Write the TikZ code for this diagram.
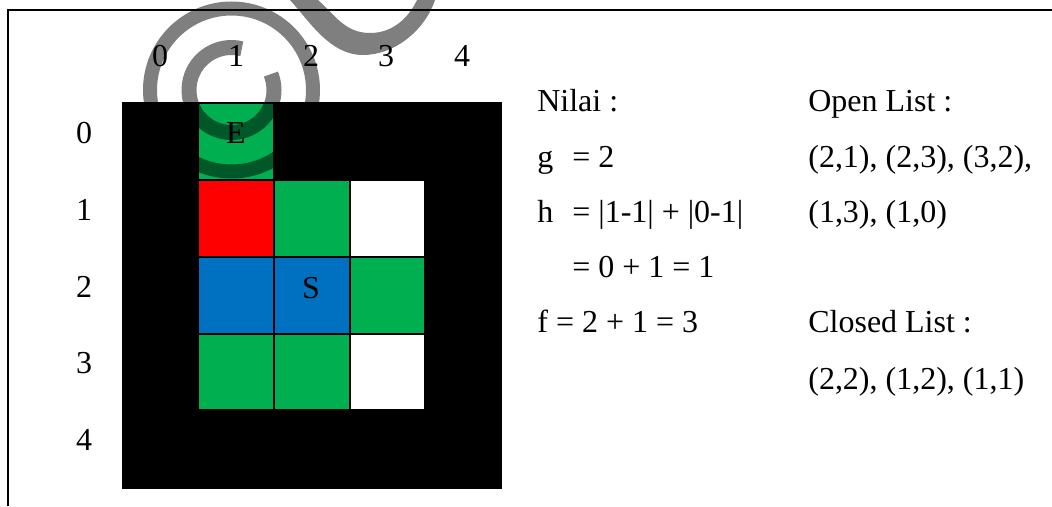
\documentclass[tikz,border=0pt]{standalone}
\usepackage{fontspec}
\setmainfont{Liberation Serif}
\definecolor{openGreen}{HTML}{00B050}
\definecolor{closedBlue}{HTML}{0070C0}

\begin{document}
\begin{tikzpicture}[
    gridcell/.style={
        rectangle, minimum width=1.48cm, minimum height=1.5cm,
        inner sep=0pt, draw=none,
    },
    lowcell/.style={
        gridcell, minimum height=1.48cm,
    },
    wmark/.style={
        draw=black, draw opacity=0.5,
    },
    basetext/.style={
        anchor=base, inner sep=0pt, font=\fontsize{18.2}{22}\selectfont,
    },
    infotext/.style={
        basetext, anchor=base west,
    },
]
\useasboundingbox (0, 0) rectangle (21.04, 10.12);

% --- Wall background ---
\fill[black] (2.44, 0.34) rectangle (10.04, 8.08);

% --- Grid cells ---
% row 0
\node[gridcell, fill=openGreen] (c01) at (4.72, 7.29) {};
% row 1
\node[gridcell, fill=red] (c11) at (4.72, 5.75) {};
\node[gridcell, fill=openGreen] (c12) at (6.24, 5.75) {};
\node[gridcell, fill=white, minimum width=1.46cm] (c13) at (7.75, 5.75) {};
% row 2
\node[gridcell, fill=closedBlue] (c21) at (4.72, 4.21) {};
\node[gridcell, fill=closedBlue] (c22) at (6.24, 4.21) {};
\node[gridcell, fill=openGreen, minimum width=1.46cm] (c23) at (7.75, 4.21) {};
% row 3
\node[lowcell, fill=openGreen] (c31) at (4.72, 2.68) {};
\node[lowcell, fill=openGreen] (c32) at (6.24, 2.68) {};
\node[lowcell, fill=white, minimum width=1.46cm] (c33) at (7.75, 2.68) {};

% --- Watermark ---
\draw[wmark, line width=0.28cm] (4.63, 8.32) circle (1.63);
\draw[wmark, line width=0.3cm] (4.63, 8.32) ++(76:0.85)
    arc[start angle=76, end angle=382, radius=0.85];
\fill[black, fill opacity=0.5] (5.8, 10.12)
    .. controls (6.2, 9.68) and (6.6, 9.02) .. (7.26, 9.02)
    .. controls (7.9, 9.02) and (8.5, 9.52) .. (8.7, 10.12)
    -- (8.34, 10.12)
    .. controls (8.2, 9.82) and (7.9, 9.46) .. (7.4, 9.46)
    .. controls (6.9, 9.46) and (6.7, 9.82) .. (6.36, 10.12)
    -- cycle;

% --- Frame ---
\draw[line width=0.04cm] (0.16, 0) -- (0.16, 9.92) -- (21.04, 9.92);

% --- Cell letters ---
\node[basetext] (end) at (4.72, 7.26) {E};
\node[basetext] (start) at (6.22, 4.16) {S};

% --- Column numbers ---
\node[basetext] (col0) at (3.2, 8.79) {0};
\node[basetext] (col1) at (4.72, 8.79) {1};
\node[basetext] (col2) at (6.22, 8.79) {2};
\node[basetext] (col3) at (7.72, 8.79) {3};
\node[basetext] (col4) at (9.24, 8.79) {4};

% --- Row numbers ---
\node[basetext] (row0) at (1.68, 7.26) {0};
\node[basetext] (row1) at (1.68, 5.72) {1};
\node[basetext] (row2) at (1.68, 4.18) {2};
\node[basetext] (row3) at (1.68, 2.66) {3};
\node[basetext] (row4) at (1.68, 1.12) {4};

% --- Values ---
\node[infotext] (nilai) at (10.74, 7.9) {Nilai :};
\node[infotext] (gname) at (10.74, 6.78) {g};
\node[infotext] (gval) at (11.44, 6.78) {= 2};
\node[infotext] (hname) at (10.74, 5.68) {h};
\node[infotext] (hval) at (11.44, 5.68) {= |1-1| + |0-1|};
\node[infotext] (hsum) at (11.44, 4.58) {= 0 + 1 = 1};
\node[infotext] (fval) at (10.74, 3.48) {f = 2 + 1 = 3};

% --- Lists ---
\node[infotext] (open) at (16.16, 7.9) {Open List :};
\node[infotext] (open1) at (16.16, 6.78) {(2,1), (2,3), (3,2),};
\node[infotext] (open2) at (16.16, 5.68) {(1,3), (1,0)};
\node[infotext] (closed) at (16.16, 3.48) {Closed List :};
\node[infotext] (closed1) at (16.16, 2.34) {(2,2), (1,2), (1,1)};

\end{tikzpicture}
\end{document}
